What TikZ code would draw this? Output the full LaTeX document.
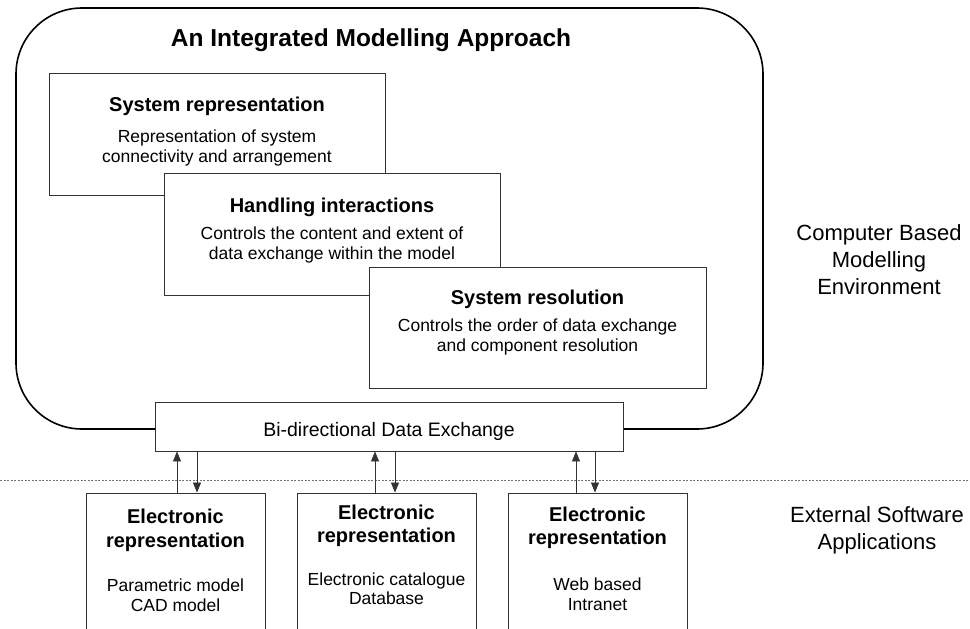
\documentclass[tikz,border=0pt]{standalone}
\usepackage{fontspec}
\setmainfont{Liberation Sans}
\usetikzlibrary{arrows.meta}
\begin{document}
\begin{tikzpicture}[x=1pt,y=-1pt,
  frame/.style={draw=black, line width=1.6pt, rounded corners=66pt, inner sep=0pt},
  box/.style={draw=black!80, line width=0.9pt, fill=white, inner sep=0pt},
  title/.style={font=\fontsize{24.5}{28}\selectfont\bfseries, inner sep=0pt},
  head/.style={font=\fontsize{20}{24}\selectfont\bfseries, align=center, inner sep=0pt},
  body/.style={font=\fontsize{17.5}{20}\selectfont, align=center, inner sep=0pt},
  side/.style={font=\fontsize{22}{27}\selectfont, align=center, inner sep=0pt},
  link/.style={draw=black!80, line width=0.7pt, -{Triangle[width=8pt,length=10pt]}},
  sep/.style={draw=black!55, line width=0.7pt, dash pattern=on 2pt off 1.5pt},
]
\useasboundingbox (0,0) rectangle (970,629);
% outer frame
\node[frame, minimum width=747pt, minimum height=421pt] (frame) at (389.5,218.5) {};
\node[title] (ttl) at (371,40) {An Integrated Modelling Approach};
% inner boxes
\node[box, minimum width=336pt, minimum height=122pt] (sr) at (217,134) {};
\node[head] (srh) at (217,106) {System representation};
\node[body] (srb) at (217,148) {Representation of system\\connectivity and arrangement};
\node[box, minimum width=336pt, minimum height=122pt] (hi) at (332,234) {};
\node[head] (hih) at (332,207) {Handling interactions};
\node[body] (hib) at (332,245) {Controls the content and extent of\\data exchange within the model};
\node[box, minimum width=337pt, minimum height=121pt] (sres) at (537.5,327.5) {};
\node[head] (sresh) at (537.5,299) {System resolution};
\node[body] (sresb) at (537.5,337) {Controls the order of data exchange\\and component resolution};
% exchange box
\node[box, minimum width=468pt, minimum height=49pt] (bi) at (389,426.5) {};
\node[font=\fontsize{19.5}{24}\selectfont, inner sep=0pt] (bit) at (389,431) {Bi-directional Data Exchange};
% separator
\coordinate (dl) at (0,480);
\coordinate (dr) at (970,480);
\draw[sep] (dl) -- (dr);
% bottom boxes
\node[box, minimum width=179pt, minimum height=157pt] (b1) at (175.5,571.5) {};
\node[box, minimum width=179pt, minimum height=157pt] (b2) at (386.5,571.5) {};
\node[box, minimum width=179pt, minimum height=157pt] (b3) at (597.5,571.5) {};
\node[head, font=\fontsize{20}{24}\selectfont\bfseries] (b1h) at (175.5,530) {Electronic\\representation};
\node[body] (b1b) at (175.5,595) {Parametric model\\CAD model};
\node[head, font=\fontsize{20}{23}\selectfont\bfseries] (b2h) at (386.5,526) {Electronic\\representation};
\node[body, font=\fontsize{17.5}{19}\selectfont] (b2b) at (386.5,589) {Electronic catalogue\\Database};
\node[head, font=\fontsize{20}{23}\selectfont\bfseries] (b3h) at (597.5,528) {Electronic\\representation};
\node[body] (b3b) at (597.5,594) {Web based\\Intranet};
% arrows
\coordinate (u1) at (177,0); \coordinate (d1) at (197,0);
\coordinate (u2) at (375,0); \coordinate (d2) at (395,0);
\coordinate (u3) at (576,0); \coordinate (d3) at (595,0);
\draw[link] (b1.north -| u1) -- (bi.south -| u1);
\draw[link] (bi.south -| d1) -- (b1.north -| d1);
\draw[link] (b2.north -| u2) -- (bi.south -| u2);
\draw[link] (bi.south -| d2) -- (b2.north -| d2);
\draw[link] (b3.north -| u3) -- (bi.south -| u3);
\draw[link] (bi.south -| d3) -- (b3.north -| d3);
% side labels
\node[side] (cbme) at (879,260) {Computer Based\\Modelling\\Environment};
\node[side] (esa) at (877,530) {External Software\\Applications};
\end{tikzpicture}
\end{document}
